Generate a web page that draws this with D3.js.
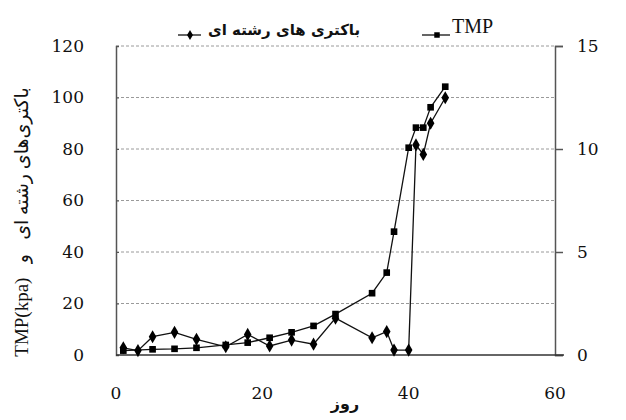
<!DOCTYPE html>
<html>
<head>
<meta charset="utf-8">
<script src="https://cdnjs.cloudflare.com/ajax/libs/d3/7.8.5/d3.min.js"></script>
<style>
  body { margin: 0; background: #fff; }
  svg { display: block; }
</style>
</head>
<body>
<div id="chart"></div>
<script>
// days of sampling
var days = [1, 3, 5, 8, 11, 15, 18, 21, 24, 27, 30, 35, 37, 38, 40, 41, 42, 43, 45];
var bacteria = [2.8, 1.7, 7.1, 8.8, 6.1, 3.2, 8.0, 3.5, 5.8, 4.2, 14.3, 6.7, 9.1, 1.9, 1.9, 81.6, 77.9, 90, 99.9];

var tmpDays = [1, 5, 8, 11, 15, 18, 21, 24, 27, 30, 35, 37, 38, 40, 41, 42, 43, 45];
var tmp = [1.7, 2.2, 2.4, 2.8, 3.9, 4.8, 6.7, 8.8, 11.3, 15.9, 24.0, 32, 47.9, 80.5, 88.3, 88.3, 96.2, 104.2];

var xTicks = [0, 20, 40, 60];
var yTicks = [0, 20, 40, 60, 80, 100, 120];
var y2Ticks = [0, 5, 10, 15];

var legendBacteria = "باکتری های رشته ای";
var legendTmp = "TMP";
var yTitle = "باکتری‌های رشته ای   و   TMP(kpa)";
var xTitle = "روز";

drawChart();

function drawChart() {
	var svg_width = 626;
	var svg_height = 420;
	var svg = d3.select("#chart").append("svg").attr("width", svg_width).attr("height", svg_height);
	var margin = {top: 46, right: 71, bottom: 65, left: 116},
	    width = svg_width - margin.left - margin.right,
	    height = svg_height - margin.top - margin.bottom;

	var numFont = "'DejaVu Serif', serif";
	var latFont = "'Liberation Serif', 'DejaVu Sans', serif";
	var faFont = "'DejaVu Sans', sans-serif";

	var x = d3.scaleLinear().domain([0, 60]).range([0, width]);
	var y = d3.scaleLinear().domain([0, 120]).range([height, 0]);
	var y2 = d3.scaleLinear().domain([0, 15]).range([height, 0]);

	var g = svg.append("g").attr("transform", "translate(" + margin.left + "," + margin.top + ")");

	// grid lines
	g.selectAll(".grid")
	  .data(yTicks.filter(function(d) { return d > 0; }))
	  .enter().append("line")
	    .attr("class", "grid")
	    .attr("x1", 0)
	    .attr("x2", width)
	    .attr("y1", function(d) { return y(d); })
	    .attr("y2", function(d) { return y(d); })
	    .attr("stroke", "#9a9a9a")
	    .attr("stroke-width", 1)
	    .attr("stroke-dasharray", "3,2");

	// left axis
	var yAxis = g.append("g")
	    .call(d3.axisRight(y).tickValues(yTicks).tickSize(3).tickFormat(""));
	yAxis.select(".domain").attr("stroke", "#555").attr("stroke-width", 1.5);
	yAxis.selectAll(".tick line").attr("stroke", "#555");

	g.selectAll(".ylab")
	  .data(yTicks)
	  .enter().append("text")
	    .attr("class", "ylab")
	    .attr("x", -32)
	    .attr("y", function(d) { return y(d); })
	    .attr("dy", "0.35em")
	    .attr("text-anchor", "end")
	    .style("font", "17px " + numFont)
	    .attr("fill", "#111")
	    .text(function(d) { return d; });

	// right axis
	var y2Axis = g.append("g")
	    .attr("transform", "translate(" + width + ",0)")
	    .call(d3.axisRight(y2).tickValues(y2Ticks).tickSize(8).tickFormat(""));
	y2Axis.select(".domain").attr("stroke", "#555").attr("stroke-width", 1.5);
	y2Axis.selectAll(".tick line").attr("stroke", "#555").attr("stroke-width", 1.5);

	g.selectAll(".y2lab")
	  .data(y2Ticks)
	  .enter().append("text")
	    .attr("class", "y2lab")
	    .attr("x", width + 22)
	    .attr("y", function(d) { return y2(d); })
	    .attr("dy", "0.35em")
	    .attr("text-anchor", "start")
	    .style("font", "17px " + numFont)
	    .attr("fill", "#111")
	    .text(function(d) { return d; });

	// bottom axis
	g.append("line")
	    .attr("x1", 0)
	    .attr("x2", width + 9)
	    .attr("y1", height)
	    .attr("y2", height)
	    .attr("stroke", "#333")
	    .attr("stroke-width", 1.5);

	g.selectAll(".xlab")
	  .data(xTicks)
	  .enter().append("text")
	    .attr("class", "xlab")
	    .attr("x", function(d) { return x(d); })
	    .attr("y", height + 44)
	    .attr("text-anchor", "middle")
	    .style("font", "17px " + numFont)
	    .attr("fill", "#111")
	    .text(function(d) { return d; });

	// series
	var bactData = days.map(function(d, i) { return {day: d, value: bacteria[i]}; });
	var tmpData = tmpDays.map(function(d, i) { return {day: d, value: tmp[i]}; });

	var line = d3.line()
	    .x(function(d) { return x(d.day); })
	    .y(function(d) { return y(d.value); });

	g.append("path")
	    .datum(tmpData)
	    .attr("fill", "none")
	    .attr("stroke", "#111")
	    .attr("stroke-width", 1.3)
	    .attr("d", line);

	g.append("path")
	    .datum(bactData)
	    .attr("fill", "none")
	    .attr("stroke", "#111")
	    .attr("stroke-width", 1.3)
	    .attr("d", line);

	var square = d3.symbol().type(d3.symbolSquare).size(44);
	var diamond = d3.symbol().type(d3.symbolDiamond).size(50);

	g.selectAll(".sq")
	  .data(tmpData)
	  .enter().append("path")
	    .attr("class", "sq")
	    .attr("transform", function(d) { return "translate(" + x(d.day) + "," + y(d.value) + ")"; })
	    .attr("d", square)
	    .attr("fill", "#000");

	g.selectAll(".dm")
	  .data(bactData)
	  .enter().append("path")
	    .attr("class", "dm")
	    .attr("transform", function(d) { return "translate(" + x(d.day) + "," + y(d.value) + ")"; })
	    .attr("d", diamond)
	    .attr("fill", "#000");

	// legend
	var leg = svg.append("g");
	leg.append("line").attr("x1", 178).attr("x2", 201).attr("y1", 35).attr("y2", 35)
	    .attr("stroke", "#111").attr("stroke-width", 1.3);
	leg.append("path").attr("transform", "translate(190,35)")
	    .attr("d", d3.symbol().type(d3.symbolDiamond).size(30)).attr("fill", "#000");
	leg.append("text")
	    .attr("x", 208)
	    .attr("y", 35)
	    .attr("text-anchor", "start")
	    .style("font", "bold 15px " + faFont)
	    .attr("fill", "#111")
	    .text(legendBacteria);

	leg.append("line").attr("x1", 422).attr("x2", 450).attr("y1", 35).attr("y2", 35)
	    .attr("stroke", "#111").attr("stroke-width", 1.3);
	leg.append("path").attr("transform", "translate(437,35)")
	    .attr("d", d3.symbol().type(d3.symbolSquare).size(30)).attr("fill", "#000");
	leg.append("text")
	    .attr("x", 452)
	    .attr("y", 33)
	    .attr("text-anchor", "start")
	    .style("font", "20px 'Liberation Serif', serif")
	    .attr("fill", "#111")
	    .text(legendTmp);

	// axis titles
	svg.append("text")
	    .attr("transform", "translate(28," + 222 + ") rotate(-90)")
	    .attr("text-anchor", "middle")
	    .style("direction", "rtl")
	    .style("white-space", "pre")
	    .style("font", "19px " + latFont)
	    .attr("fill", "#111")
	    .text(yTitle);

	svg.append("text")
	    .attr("x", 345)
	    .attr("y", 409)
	    .attr("text-anchor", "middle")
	    .style("font", "bold 16px " + faFont)
	    .attr("fill", "#111")
	    .text(xTitle);
}
</script>
</body>
</html>
